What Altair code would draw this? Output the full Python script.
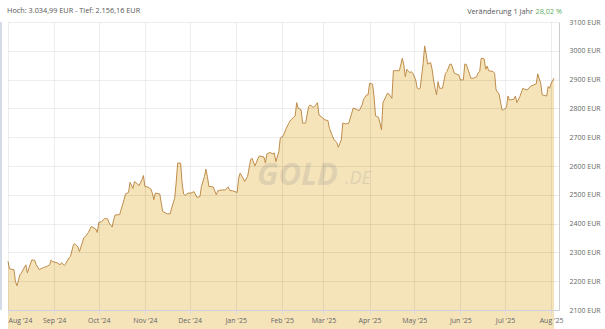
import altair as alt
import pandas as pd

dates = [
 "2024-08-01","2024-08-02","2024-08-05","2024-08-06","2024-08-07","2024-08-09","2024-08-10","2024-08-13","2024-08-14","2024-08-17",
 "2024-08-19","2024-08-20","2024-08-22","2024-08-25","2024-08-27","2024-08-29","2024-08-30","2024-08-31","2024-09-03","2024-09-05",
 "2024-09-06","2024-09-08","2024-09-11","2024-09-12","2024-09-14","2024-09-15","2024-09-17","2024-09-18","2024-09-21","2024-09-22",
 "2024-09-24","2024-09-26","2024-09-29","2024-09-30","2024-10-01","2024-10-03","2024-10-05","2024-10-07","2024-10-08","2024-10-10",
 "2024-10-11","2024-10-12","2024-10-15","2024-10-16","2024-10-18","2024-10-19","2024-10-21","2024-10-22","2024-10-24","2024-10-25",
 "2024-10-27","2024-10-28","2024-10-30","2024-10-31","2024-11-01","2024-11-03","2024-11-05","2024-11-06","2024-11-07","2024-11-08",
 "2024-11-11","2024-11-12","2024-11-13","2024-11-16","2024-11-18","2024-11-19","2024-11-21","2024-11-22","2024-11-23","2024-11-25",
 "2024-11-26","2024-11-27","2024-11-28","2024-11-30","2024-12-02","2024-12-04","2024-12-06","2024-12-08","2024-12-09","2024-12-11",
 "2024-12-12","2024-12-13","2024-12-14","2024-12-17","2024-12-19","2024-12-20","2024-12-23","2024-12-25","2024-12-27","2024-12-28",
 "2024-12-30","2025-01-02","2025-01-03","2025-01-04","2025-01-06","2025-01-07","2025-01-09","2025-01-11","2025-01-12","2025-01-14",
 "2025-01-16","2025-01-17","2025-01-20","2025-01-21","2025-01-22","2025-01-24","2025-01-26","2025-01-27","2025-01-28","2025-01-30",
 "2025-01-31","2025-02-02","2025-02-04","2025-02-06","2025-02-07","2025-02-09","2025-02-10","2025-02-11","2025-02-12","2025-02-14",
 "2025-02-15","2025-02-17","2025-02-19","2025-02-20","2025-02-22","2025-02-23","2025-02-25","2025-02-26","2025-02-28","2025-03-02",
 "2025-03-04","2025-03-05","2025-03-07","2025-03-08","2025-03-10","2025-03-11","2025-03-13","2025-03-14","2025-03-16","2025-03-18",
 "2025-03-19","2025-03-21","2025-03-23","2025-03-25","2025-03-27","2025-03-28","2025-03-30","2025-03-31","2025-04-01","2025-04-03",
 "2025-04-04","2025-04-05","2025-04-07","2025-04-08","2025-04-09","2025-04-10","2025-04-12","2025-04-13","2025-04-14","2025-04-16",
 "2025-04-17","2025-04-19","2025-04-21","2025-04-23","2025-04-24","2025-04-25","2025-04-26","2025-04-28","2025-04-29","2025-04-30",
 "2025-05-02","2025-05-03","2025-05-04","2025-05-05","2025-05-07","2025-05-08","2025-05-09","2025-05-10","2025-05-12","2025-05-13",
 "2025-05-14","2025-05-15","2025-05-16","2025-05-17","2025-05-18","2025-05-20","2025-05-22","2025-05-23","2025-05-25","2025-05-26",
 "2025-05-28","2025-05-29","2025-05-31","2025-06-01","2025-06-03","2025-06-04","2025-06-05","2025-06-07","2025-06-08","2025-06-10",
 "2025-06-12","2025-06-13","2025-06-14","2025-06-15","2025-06-17","2025-06-18","2025-06-19","2025-06-20","2025-06-23","2025-06-24",
 "2025-06-25","2025-06-27","2025-06-29","2025-06-30","2025-07-02","2025-07-03","2025-07-04","2025-07-07","2025-07-08","2025-07-09",
 "2025-07-11","2025-07-13","2025-07-14","2025-07-16","2025-07-18","2025-07-20","2025-07-22","2025-07-23","2025-07-25","2025-07-26",
 "2025-07-29","2025-07-30","2025-07-31","2025-08-01","2025-08-03",
]

prices = [
 2269,2243,2240,2199,2184,2222,2229,2257,2229,2274,
 2272,2257,2240,2248,2251,2257,2274,2268,2264,2257,
 2264,2254,2281,2286,2327,2330,2319,2303,2351,2355,
 2369,2390,2381,2369,2404,2407,2418,2416,2402,2388,
 2413,2430,2431,2448,2483,2503,2508,2543,2522,2546,
 2538,2531,2552,2567,2529,2527,2520,2506,2483,2506,
 2503,2471,2442,2434,2434,2454,2488,2541,2610,2610,
 2541,2503,2498,2506,2506,2511,2491,2494,2529,2563,
 2589,2563,2529,2527,2500,2514,2517,2517,2527,2515,
 2514,2508,2558,2575,2558,2546,2563,2621,2627,2600,
 2627,2635,2631,2610,2642,2647,2642,2645,2615,2650,
 2697,2705,2731,2751,2760,2769,2774,2820,2801,2795,
 2749,2749,2806,2812,2804,2806,2820,2777,2769,2760,
 2758,2731,2705,2693,2681,2665,2691,2749,2746,2749,
 2766,2801,2797,2792,2812,2832,2847,2847,2887,2884,
 2841,2774,2769,2749,2725,2820,2841,2853,2850,2835,
 2931,2931,2931,2974,2951,2910,2936,2924,2928,2922,
 2899,2870,2867,2870,2957,3017,2991,2954,2959,2936,
 2899,2870,2847,2893,2870,2870,2922,2928,2954,2953,
 2922,2920,2916,2899,2899,2954,2953,2922,2905,2905,
 2910,2924,2928,2974,2972,2936,2947,2931,2928,2922,
 2864,2850,2795,2795,2804,2843,2829,2832,2843,2820,
 2841,2870,2867,2864,2876,2881,2885,2920,2887,2847,
 2843,2876,2870,2887,2905,
]

y_ticks = [2100, 2200, 2300, 2400, 2500, 2600, 2700, 2800, 2900, 3000, 3100]
x_start = "2024-08-01T00:00:00"
x_end = "2025-08-06T07:00:00"

header_left = "Hoch: 3.034,99 EUR - Tief: 2.156,16 EUR"
header_right = "Veränderung 1 Jahr"
header_change = "28,02 %"

df = pd.DataFrame({"date": [d + "T00:00:00" for d in dates], "price": prices})

FONT = "Open Sans"
W, H = 551, 288

x_enc = alt.X(
    "date:T",
    scale=alt.Scale(domain=[x_start, x_end]),
    axis=alt.Axis(
        title=None, format="%b '%y", tickCount={"interval": "month", "step": 1},
        labelFont=FONT, labelFontSize=7, labelColor="#666666", labelFlush=True,
        labelPadding=2, tickSize=4, tickColor="#d8dde6",
        domainColor="#c8d0de", grid=True, gridColor="#000000", gridOpacity=0.07,
        labelOverlap=False, zindex=1,
    ),
)
y_enc = alt.Y(
    "price:Q",
    scale=alt.Scale(domain=[2100, 3100], zero=False, nice=False),
    axis=alt.Axis(
        title=None, orient="right", values=y_ticks, labelExpr="datum.value + ' EUR'",
        labelFont=FONT, labelFontSize=7, labelColor="#666666", labelPadding=10,
        labelOverlap=False, labelBound=False, ticks=False, domain=True, domainColor="#cccccc",
        grid=True, gridColor="#000000", gridOpacity=0.07, zindex=1,
    ),
)

base = alt.Chart(df)
area = base.mark_area(color="#f5e4ba", opacity=1).encode(x=x_enc, y=y_enc)
line = base.mark_line(color="#bf8d4c", strokeWidth=1).encode(x=x_enc, y=y_enc)

one = alt.Chart(pd.DataFrame({"a": [0]}))

left_border = one.mark_rule(color="#d3dbe6", strokeWidth=2).encode(
    x=alt.value(-7), y=alt.value(0), y2=alt.value(H)
)

wm1 = one.mark_text(
    text="GOLD", font=FONT, fontSize=31, fontWeight="bold", fontStyle="italic",
    color="#8a8a8a", opacity=0.2, align="left", baseline="alphabetic",
).encode(x=alt.value(249), y=alt.value(163))
wm2 = one.mark_text(
    text=".DE", font=FONT, fontSize=18, fontStyle="italic",
    color="#8a8a8a", opacity=0.2, align="left", baseline="alphabetic",
).encode(x=alt.value(337), y=alt.value(162))

t1 = one.mark_text(
    text=header_left, font=FONT, fontSize=7.3, color="#555555", align="left", baseline="middle",
).encode(x=alt.value(-1), y=alt.value(-11))
t2 = one.mark_text(
    text=header_right, font=FONT, fontSize=7.3, color="#555555", align="right", baseline="middle",
).encode(x=alt.value(525), y=alt.value(-10))
t3 = one.mark_text(
    text=header_change, font=FONT, fontSize=7.3, color="#5aab5e", align="left", baseline="middle",
).encode(x=alt.value(527.5), y=alt.value(-10))

chart = alt.layer(area, wm1, wm2, line, left_border, t1, t2, t3).properties(
    width=W, height=H,
    autosize=alt.AutoSizeParams(type="none"),
    padding={"left": 8, "top": 22, "right": 46, "bottom": 19},
    background="white",
).configure_view(stroke=None)

chart.save("out.html", embed_options={"renderer": "svg", "actions": False})
